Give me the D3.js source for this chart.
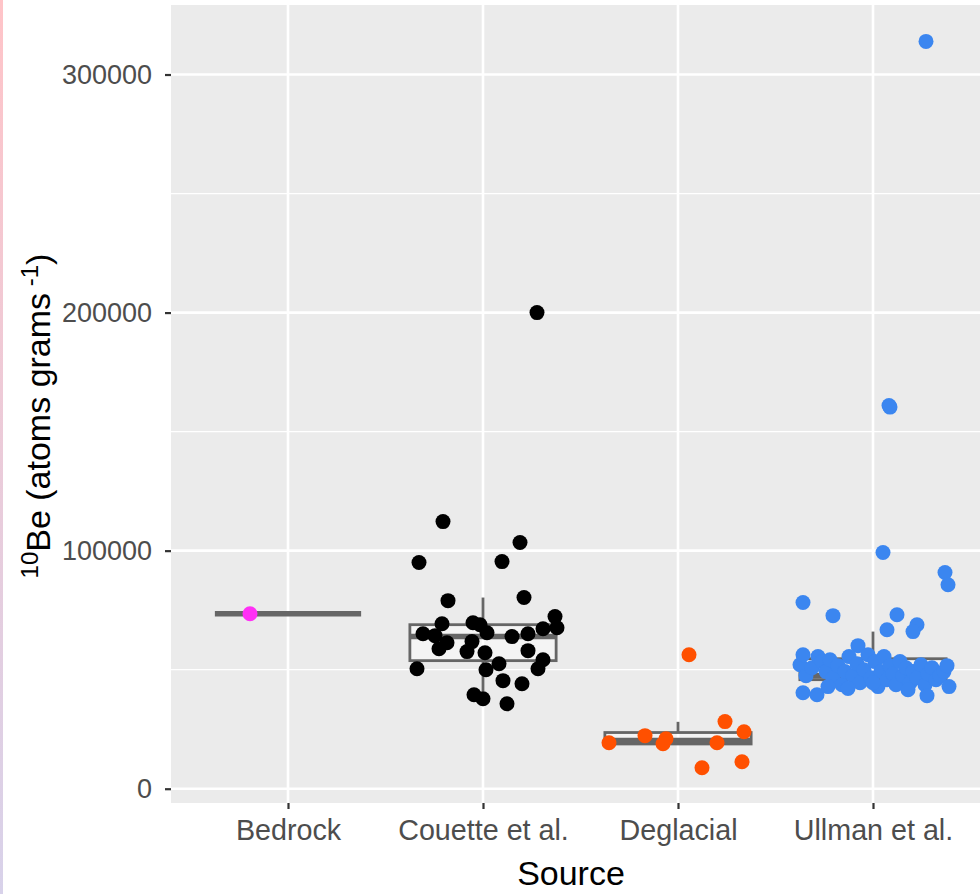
<!DOCTYPE html>
<html>
<head>
<meta charset="utf-8">
<script src="https://cdn.jsdelivr.net/npm/d3@7"></script>
<style>
  body { margin: 0; background: #fff; }
  text { font-family: "Liberation Sans", Arial, Helvetica, sans-serif; }
</style>
</head>
<body>
<script>
var width = 980,
    height = 894;

var panel = { left: 171, right: 990, top: 5, bottom: 803 };

// categories and colours
var sources = ["Bedrock", "Couette et al.", "Deglacial", "Ullman et al."];
var colors = ["#ff30f5", "#000000", "#ff5000", "#3b86f0"];

// box stats: lower whisker, q1, median, q3, upper whisker
var boxLo  = [73500, 40800, 18600, 41000];
var boxQ1  = [73500, 53800, 18800, 45800];
var boxMed = [73500, 63900, 20300, 47500];
var boxQ3  = [73500, 68900, 23600, 54600];
var boxHi  = [73500, 80300, 28100, 66000];

// points: [jitter in px of category step (195), value]
var bedrock = [[-38, 73500]];

var couette = [
  [54, 200000], [-40, 112200], [37, 103400], [-64, 95000], [19, 95400],
  [-35, 79000], [41, 80300], [72, 72300], [74, 67600], [60, 67200],
  [45, 65100], [29, 63900], [4, 65500], [-3, 68900], [-10, 69700],
  [-41, 69300], [-60, 65100], [-48, 64300], [-36, 61300], [-44, 58800],
  [-11, 61800], [-16, 57600], [2, 57100], [45, 58000], [60, 54200],
  [55, 50400], [16, 52500], [3, 50000], [-66, 50400], [20, 45400],
  [39, 44100], [-9, 39500], [0, 37800], [24, 35700]
];

var deglacial = [
  [11, 56300], [47, 28200], [66, 23900], [-33, 22300], [-12, 21000],
  [-15, 18900], [-69, 19300], [39, 19300], [64, 11300], [24, 8800]
];

var ullman = [
  [53, 313900], [16, 161000], [17, 160300], [10, 99200], [72, 90800],
  [75, 85700], [-70, 78200], [-40, 72700], [24, 73100], [44, 68900],
  [40, 66000], [14, 66800], [-15, 60100],
  [-73, 52100], [-70, 56300], [-67, 47500], [-61, 50800], [-55, 55500],
  [-51, 53400], [-47, 49200], [-43, 54200], [-40, 46600], [-35, 51700],
  [-31, 43700], [-28, 49200], [-24, 55500], [-20, 47500], [-16, 52500],
  [-13, 44500], [-9, 50000], [-5, 56300], [-2, 46600], [2, 53400],
  [5, 42900], [8, 49200], [11, 55500], [14, 45800], [17, 51700],
  [20, 48300], [23, 43700], [27, 53400], [30, 47500], [33, 50800],
  [37, 44500], [40, 49200], [44, 46600], [48, 52100], [52, 43700],
  [55, 48300], [59, 50800], [63, 45800], [67, 47500], [71, 49200],
  [74, 51700], [76, 42900],
  [-70, 40300], [-56, 39500], [54, 39100], [-45, 42900], [0, 44500],
  [-25, 42100], [35, 41600]
];

var pointSets = [bedrock, couette, deglacial, ullman];

var yMajor = [0, 100000, 200000, 300000];
var yMinor = [50000, 150000, 250000];

var svg = d3.select("body").append("svg")
  .attr("width", width)
  .attr("height", height);

// faint strip on the left edge of the original picture
var grad = svg.append("defs").append("linearGradient")
  .attr("id", "edge")
  .attr("x1", 0).attr("y1", 0).attr("x2", 0).attr("y2", 1);
grad.append("stop").attr("offset", "0%").attr("stop-color", "#ffc4c8");
grad.append("stop").attr("offset", "100%").attr("stop-color", "#d8d2ea");
svg.append("rect")
  .attr("x", 0).attr("y", 0).attr("width", 3).attr("height", height)
  .attr("fill", "url(#edge)");

var x = d3.scalePoint()
  .domain(sources)
  .range([panel.left, panel.right])
  .padding(0.6);

var y = d3.scaleLinear()
  .domain([-6000, 329200])
  .range([panel.bottom, panel.top]);

var step = x.step();

svg.append("rect")
  .attr("x", panel.left)
  .attr("y", panel.top)
  .attr("width", panel.right - panel.left)
  .attr("height", panel.bottom - panel.top)
  .attr("fill", "#ebebeb");

// grid
svg.selectAll(".minor")
  .data(yMinor)
  .enter().append("line")
  .attr("x1", panel.left).attr("x2", panel.right)
  .attr("y1", function (d) { return y(d); })
  .attr("y2", function (d) { return y(d); })
  .attr("stroke", "#fff")
  .attr("stroke-width", 1.3);

svg.selectAll(".major")
  .data(yMajor)
  .enter().append("line")
  .attr("x1", panel.left).attr("x2", panel.right)
  .attr("y1", function (d) { return y(d); })
  .attr("y2", function (d) { return y(d); })
  .attr("stroke", "#fff")
  .attr("stroke-width", 2.6);

svg.selectAll(".vmajor")
  .data(sources)
  .enter().append("line")
  .attr("y1", panel.top).attr("y2", panel.bottom)
  .attr("x1", function (d) { return x(d); })
  .attr("x2", function (d) { return x(d); })
  .attr("stroke", "#fff")
  .attr("stroke-width", 2.6);

// boxplots
var boxW = step * 0.75;
var boxes = svg.selectAll(".box")
  .data(sources)
  .enter().append("g")
  .attr("class", "box");

boxes.append("line")
  .attr("x1", function (d) { return x(d); })
  .attr("x2", function (d) { return x(d); })
  .attr("y1", function (d, i) { return y(boxHi[i]); })
  .attr("y2", function (d, i) { return y(boxQ3[i]); })
  .attr("stroke", "#666")
  .attr("stroke-width", 2.8);

boxes.append("line")
  .attr("x1", function (d) { return x(d); })
  .attr("x2", function (d) { return x(d); })
  .attr("y1", function (d, i) { return y(boxQ1[i]); })
  .attr("y2", function (d, i) { return y(boxLo[i]); })
  .attr("stroke", "#666")
  .attr("stroke-width", 2.8);

boxes.append("rect")
  .attr("x", function (d) { return x(d) - boxW / 2; })
  .attr("width", boxW)
  .attr("y", function (d, i) { return y(boxQ3[i]); })
  .attr("height", function (d, i) { return y(boxQ1[i]) - y(boxQ3[i]); })
  .attr("fill", "rgba(255,255,255,0.45)")
  .attr("stroke", "#666")
  .attr("stroke-width", 2.8);

boxes.append("line")
  .attr("x1", function (d) { return x(d) - boxW / 2; })
  .attr("x2", function (d) { return x(d) + boxW / 2; })
  .attr("y1", function (d, i) { return y(boxMed[i]); })
  .attr("y2", function (d, i) { return y(boxMed[i]); })
  .attr("stroke", "#666")
  .attr("stroke-width", 5.5);

// jittered points
pointSets.forEach(function (set, i) {
  svg.append("g")
    .selectAll("circle")
    .data(set)
    .enter().append("circle")
    .attr("cx", function (d) { return x(sources[i]) + d[0] / 195 * step; })
    .attr("cy", function (d) { return y(d[1]); })
    .attr("r", 7.5)
    .attr("fill", colors[i]);
});

// y axis
var yAxis = svg.append("g")
  .attr("transform", "translate(" + panel.left + ",0)")
  .call(d3.axisLeft(y).tickValues(yMajor).tickFormat(d3.format("d")).tickSize(6).tickPadding(13));
yAxis.select(".domain").remove();
yAxis.selectAll(".tick line").attr("stroke", "#333").attr("stroke-width", 2.2);
yAxis.selectAll(".tick text")
  .attr("fill", "#4d4d4d")
  .style("font-size", "27px")
  .style("font-family", "'Liberation Sans', Arial, sans-serif");

// x axis
var xAxis = svg.append("g")
  .attr("transform", "translate(0," + panel.bottom + ")")
  .call(d3.axisBottom(x).tickSize(6).tickPadding(11));
xAxis.select(".domain").remove();
xAxis.selectAll(".tick line").attr("stroke", "#333").attr("stroke-width", 2.2);
xAxis.selectAll(".tick text")
  .attr("fill", "#4d4d4d")
  .style("font-size", "28.7px")
  .style("font-family", "'Liberation Sans', Arial, sans-serif");

// titles
svg.append("text")
  .attr("x", 571)
  .attr("y", 885)
  .attr("text-anchor", "middle")
  .style("font-size", "34px")
  .text("Source");

var yt = svg.append("text")
  .attr("transform", "translate(50," + 416 + ")rotate(-90)")
  .attr("text-anchor", "middle")
  .style("font-size", "34px");
yt.append("tspan").attr("dy", -12).style("font-size", "24px").text("10");
yt.append("tspan").attr("dy", 12).text("Be (atoms grams");
yt.append("tspan").attr("dy", -12).style("font-size", "24px").text(" -1");
yt.append("tspan").attr("dy", 12).text(")");
</script>
</body>
</html>
